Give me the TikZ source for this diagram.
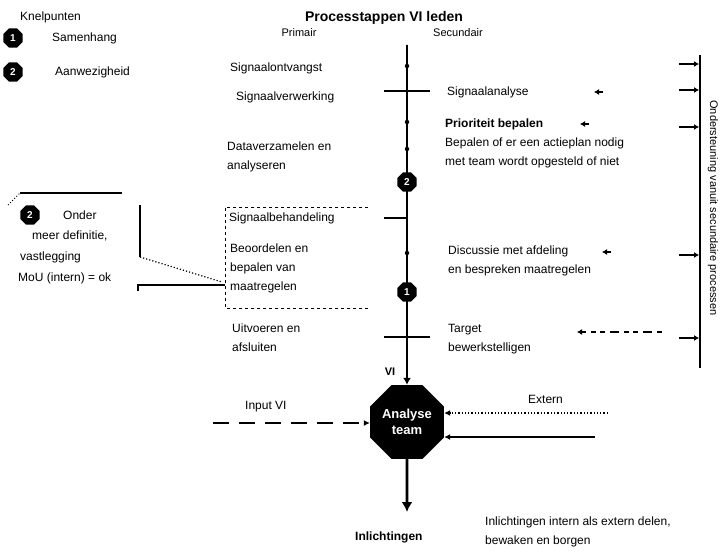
\documentclass[tikz,border=0pt]{standalone}
\usepackage{fontspec}
\setmainfont{Liberation Sans}
\usetikzlibrary{shapes.geometric,arrows.meta}
\begin{document}
\begin{tikzpicture}[x=1pt,y=-1pt,
  lbl/.style={font=\fontsize{12}{19}\selectfont, inner sep=0pt, anchor=west, align=left},
  lblb/.style={font=\fontsize{12}{19}\selectfont\bfseries, inner sep=0pt, anchor=west, align=left},
  hdr/.style={font=\fontsize{11}{13}\selectfont, inner sep=0pt},
  knelp/.style={regular polygon, regular polygon sides=8, fill=black, text=white, font=\fontsize{10}{10}\selectfont\bfseries, minimum size=21pt, inner sep=0pt},
  bigoct/.style={regular polygon, regular polygon sides=8, fill=black, text=white, font=\fontsize{13}{16}\selectfont\bfseries, minimum size=80pt, inner sep=0pt, align=center},
  tickline/.style={line width=1.1pt},
  axisline/.style={line width=1.6pt},
  dotpt/.style={circle, fill=black, inner sep=0pt, minimum size=4.5pt},
  smallarr/.style={-{Latex[length=5pt,width=6pt]}, line width=1.6pt},
  inarr/.style={-{Latex[length=6pt,width=6pt]}, line width=1.3pt},
]
\useasboundingbox (0,0) rectangle (723,556);

% legend
\node[lbl] (legtitle) at (20,17) {Knelpunten};
\node[knelp] (leg1) at (13,38) {1};
\node[lbl] (leg1t) at (52,38) {Samenhang};
\node[knelp] (leg2) at (13,72) {2};
\node[lbl] (leg2t) at (55,72) {Aanwezigheid};

% title and column headers
\node[font=\fontsize{14}{16}\selectfont\bfseries, inner sep=0pt] (title) at (384,18) {Processtappen VI leden};
\node[hdr] (prim) at (299,33) {Primair};
\node[hdr] (sec) at (458,33) {Secundair};

% main axis
\coordinate (top) at (407,45);
\node[bigoct] (team) at (407,422) {Analyse\\team};
\draw[axisline,-{Latex[length=7pt,width=8pt]}] (top) -- (team.north);

% ticks
\draw[tickline] (384,91) -- (430,91);
\draw[tickline] (384,218) -- (407,218);
\draw[tickline] (384,337) -- (430,337);

% dots on axis
\node[dotpt] (p1) at (407,66) {};
\node[dotpt] (p2) at (407,122) {};
\node[dotpt] (p3) at (407,149) {};
\node[dotpt] (p4) at (407,253) {};
\node[knelp] (k2) at (407,182) {2};
\node[knelp] (k1) at (407,292) {1};
\node[font=\fontsize{11}{11}\selectfont\bfseries, inner sep=0pt] (vi) at (390,372) {VI};

% primary (left) steps
\node[lbl] (l1) at (230,68) {Signaalontvangst};
\node[lbl] (l2) at (236,97) {Signaalverwerking};
\node[lbl] (l3) at (227,157) {Dataverzamelen en\\analyseren};
\node[lbl] (l4) at (229,218) {Signaalbehandeling};
\node[lbl] (l5) at (230,268) {Beoordelen en\\bepalen van\\maatregelen};
\node[lbl] (l6) at (232,338) {Uitvoeren en\\afsluiten};
\draw[dashed, line width=0.9pt] (368,207) -- (225,207) -- (225,308) -- (368,308);

% secondary (right) steps
\node[lbl] (r1) at (447,92) {Signaalanalyse};
\node[lblb] (r2) at (445,124) {Prioriteit bepalen};
\node[lbl] (r2b) at (445,153) {Bepalen of er een actieplan nodig\\met team wordt opgesteld of niet};
\node[lbl] (r3) at (448,261) {Discussie met afdeling\\en bespreken maatregelen};
\node[lbl] (r4) at (448,339) {Target\\bewerkstelligen};

% right bar
\coordinate (bartop) at (700,55);
\coordinate (barbot) at (700,368);
\draw[axisline] (bartop) -- (barbot);
\node[font=\fontsize{11}{13}\selectfont, inner sep=0pt, rotate=-90] (barlbl) at (713,208) {Ondersteuning vanuit secundaire processen};

% markers at texts and bar
\draw[smallarr] (603,92) -- (594,92);
\draw[smallarr] (589,124) -- (580,124);
\draw[smallarr] (611,252) -- (602,252);
\draw[line width=1.2pt, dash pattern=on 5pt off 5pt on 9pt off 5pt on 5pt off 4pt, -{Latex[length=5pt,width=6pt]}] (662,332) -- (577,332);
\foreach \yy in {64,90,127,255,338} {
  \draw[smallarr] (679,\yy) -- (699,\yy);
}

% callout
\draw[line width=1.3pt] (20,193) -- (122,193);
\draw[dotted, line width=1pt] (8,205) -- (20,193);
\node[knelp] (c2) at (30,215) {2};
\node[lbl] (c1) at (63,215) {Onder};
\node[lbl] (c3) at (32,236) {meer definitie,};
\node[lbl] (c4) at (20,257) {vastlegging};
\node[lbl] (c5) at (18,278) {MoU (intern) = ok};
\coordinate (ca) at (140,205);
\coordinate (cb) at (140,257);
\coordinate (cc) at (222,282);
\coordinate (cd) at (138,291);
\coordinate (ce) at (138,285);
\coordinate (cf) at (225,285);
\draw[line width=1.3pt] (ca) -- (cb);
\draw[dotted, line width=1.2pt] (cb) -- (cc);
\draw[line width=1.3pt] (cd) -- (ce) -- (cf);

% inputs to analyse team
\coordinate (inL) at (213,423);
\draw[inarr, dash pattern=on 16pt off 10pt] (inL) -- (inL -| team.west);
\node[lbl] (inLt) at (245,407) {Input VI};
\coordinate (inR1) at (608,413);
\draw[inarr, dotted] (inR1) -- (inR1 -| team.east);
\node[lbl] (inR1t) at (528,399) {Extern};
\coordinate (inR2) at (595,437);
\draw[inarr] (inR2) -- (inR2 -| team.east);

% output
\coordinate (outp) at (407,512);
\draw[line width=2.6pt, -{Latex[length=10pt,width=11pt]}] (team.south) -- (outp);
\node[lblb] (outt) at (355,537) {Inlichtingen};
\node[lbl] (outn) at (485,532) {Inlichtingen intern als extern delen,\\bewaken en borgen};
\end{tikzpicture}
\end{document}
